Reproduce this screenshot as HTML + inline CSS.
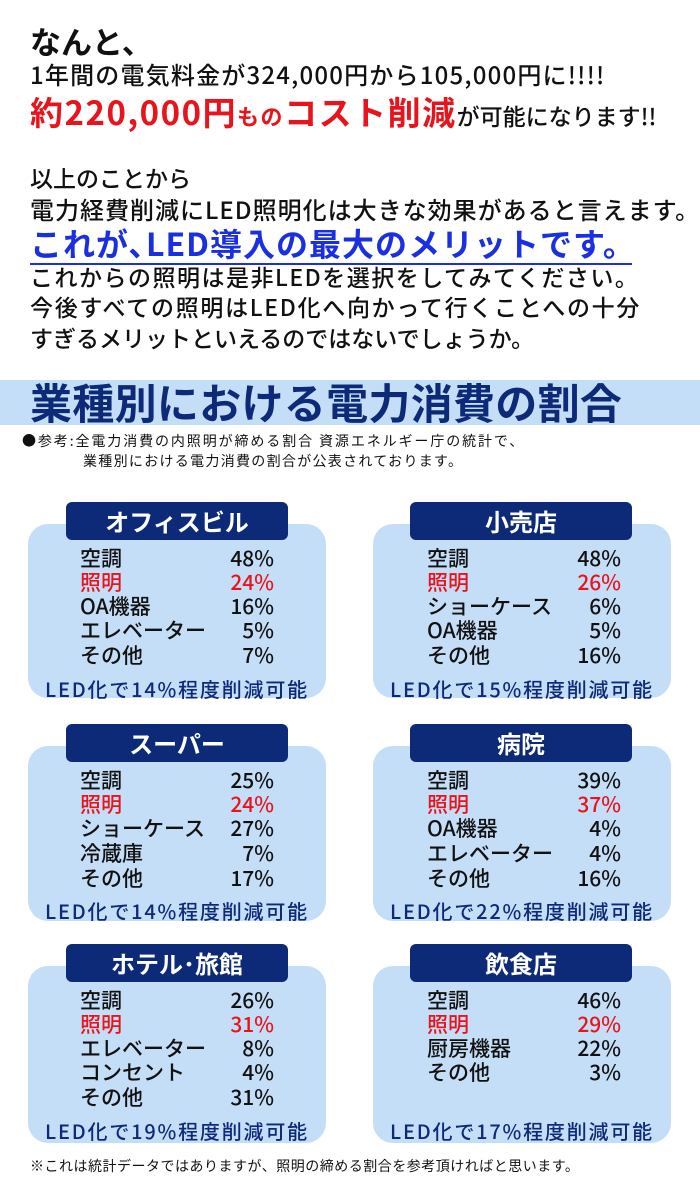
<!DOCTYPE html>
<html><head><meta charset="utf-8"><style>
*{margin:0;padding:0;box-sizing:border-box}
body{width:700px;height:1200px;background:#fff;font-family:"Noto Sans CJK JP","Liberation Sans",sans-serif;position:relative;overflow:hidden;color:#111}
.t{position:absolute;white-space:nowrap;line-height:1}
.b{font-weight:bold}
.banner{position:absolute;left:0;top:380px;width:700px;height:45px;background:#c5def8}
.card{position:absolute;width:298px;background:#c5def8;border-radius:20px}
.title{position:absolute;width:222px;height:38px;background:#0d2a78;border-radius:6px;color:#fff;font-weight:bold;font-size:24px;text-align:center;line-height:38px}
.row{position:absolute;font-size:21px;line-height:1;white-space:nowrap;font-weight:500}
.red{color:#e8141c}
.foot{position:absolute;color:#0d2a78;font-size:20px;font-weight:500;white-space:nowrap;line-height:1;letter-spacing:1.8px}
</style></head><body>
<div class="t b" style="left:30px;top:25px;font-size:31px">なんと、</div>
<div class="t" style="left:30px;top:62px;font-size:24px;font-weight:500;letter-spacing:1.2px">1年間の電気料金が324,000円から105,000円に!!!!</div>
<div class="t b" style="left:30px;top:95px;font-size:33px;color:#e8141c;letter-spacing:1.5px">約220,000円<span style="font-size:22px">もの</span>コスト削減<span style="color:#111;font-size:23px;font-weight:500;letter-spacing:0">が可能になります!!</span></div>
<div class="t" style="left:30px;top:166px;font-size:23px;font-weight:500">以上のことから</div>
<div class="t" style="left:30px;top:197px;font-size:24px;font-weight:500;letter-spacing:1px">電力経費削減にLED照明化は大きな効果があると言えます。</div>
<div class="t b" style="left:30px;top:227px;font-size:32px;color:#1a2fe0;letter-spacing:1px">これが､LED導入の最大のメリットです。</div>
<div style="position:absolute;left:30px;top:263px;width:602px;height:2px;background:#1a2fe0"></div>
<div class="t" style="left:30px;top:265px;font-size:23px;font-weight:500;letter-spacing:1.5px">これからの照明は是非LEDを選択をしてみてください。</div>
<div class="t" style="left:30px;top:295px;font-size:23px;font-weight:500;letter-spacing:1.7px">今後すべての照明はLED化へ向かって行くことへの十分</div>
<div class="t" style="left:30px;top:326px;font-size:23px;font-weight:500">すぎるメリットといえるのではないでしょうか。</div>

<div class="banner"></div>
<div class="t b" style="left:30px;top:381px;font-size:42px;color:#0d2a78;letter-spacing:0.3px">業種別における電力消費の割合</div>
<div class="t" style="left:22px;top:434px;font-size:14px;letter-spacing:1.9px">●参考:全電力消費の内照明が締める割合 資源エネルギー庁の統計で、</div>
<div class="t" style="left:83px;top:454px;font-size:14px;letter-spacing:1.3px">業種別における電力消費の割合が公表されております。</div>

<!-- row 1 -->
<div class="card" style="left:28px;top:524px;height:174px"></div>
<div class="title" style="left:66px;top:502px">オフィスビル</div>
<div class="row" style="left:80px;top:548px">空調</div><div class="row red" style="left:80px;top:572px">照明</div>
<div class="row" style="left:80px;top:596px">OA機器</div><div class="row" style="left:80px;top:620px">エレベーター</div><div class="row" style="left:80px;top:645px">その他</div>
<div class="row" style="right:426px;top:548px">48%</div><div class="row red" style="right:426px;top:572px">24%</div><div class="row" style="right:426px;top:596px">16%</div><div class="row" style="right:426px;top:620px">5%</div><div class="row" style="right:426px;top:645px">7%</div>
<div class="foot" style="left:45px;top:679px">LED化で14%程度削減可能</div>

<div class="card" style="left:373px;top:524px;height:174px"></div>
<div class="title" style="left:410px;top:502px">小売店</div>
<div class="row" style="left:427px;top:548px">空調</div><div class="row red" style="left:427px;top:572px">照明</div>
<div class="row" style="left:427px;top:596px">ショーケース</div><div class="row" style="left:427px;top:620px">OA機器</div><div class="row" style="left:427px;top:645px">その他</div>
<div class="row" style="right:79px;top:548px">48%</div><div class="row red" style="right:79px;top:572px">26%</div><div class="row" style="right:79px;top:596px">6%</div><div class="row" style="right:79px;top:620px">5%</div><div class="row" style="right:79px;top:645px">16%</div>
<div class="foot" style="left:390px;top:679px">LED化で15%程度削減可能</div>

<!-- row 2 -->
<div class="card" style="left:28px;top:746px;height:175px"></div>
<div class="title" style="left:66px;top:724px">スーパー</div>
<div class="row" style="left:80px;top:770px">空調</div><div class="row red" style="left:80px;top:794px">照明</div>
<div class="row" style="left:80px;top:818px">ショーケース</div><div class="row" style="left:80px;top:843px">冷蔵庫</div><div class="row" style="left:80px;top:868px">その他</div>
<div class="row" style="right:426px;top:770px">25%</div><div class="row red" style="right:426px;top:794px">24%</div><div class="row" style="right:426px;top:818px">27%</div><div class="row" style="right:426px;top:843px">7%</div><div class="row" style="right:426px;top:868px">17%</div>
<div class="foot" style="left:45px;top:901px">LED化で14%程度削減可能</div>

<div class="card" style="left:373px;top:746px;height:175px"></div>
<div class="title" style="left:410px;top:724px">病院</div>
<div class="row" style="left:427px;top:770px">空調</div><div class="row red" style="left:427px;top:794px">照明</div>
<div class="row" style="left:427px;top:818px">OA機器</div><div class="row" style="left:427px;top:843px">エレベーター</div><div class="row" style="left:427px;top:868px">その他</div>
<div class="row" style="right:79px;top:770px">39%</div><div class="row red" style="right:79px;top:794px">37%</div><div class="row" style="right:79px;top:818px">4%</div><div class="row" style="right:79px;top:843px">4%</div><div class="row" style="right:79px;top:868px">16%</div>
<div class="foot" style="left:390px;top:901px">LED化で22%程度削減可能</div>

<!-- row 3 -->
<div class="card" style="left:28px;top:966px;height:177px"></div>
<div class="title" style="left:66px;top:944px">ホテル･旅館</div>
<div class="row" style="left:80px;top:990px">空調</div><div class="row red" style="left:80px;top:1014px">照明</div>
<div class="row" style="left:80px;top:1038px">エレベーター</div><div class="row" style="left:80px;top:1062px">コンセント</div><div class="row" style="left:80px;top:1087px">その他</div>
<div class="row" style="right:426px;top:990px">26%</div><div class="row red" style="right:426px;top:1014px">31%</div><div class="row" style="right:426px;top:1038px">8%</div><div class="row" style="right:426px;top:1062px">4%</div><div class="row" style="right:426px;top:1087px">31%</div>
<div class="foot" style="left:45px;top:1121px">LED化で19%程度削減可能</div>

<div class="card" style="left:373px;top:966px;height:177px"></div>
<div class="title" style="left:410px;top:944px">飲食店</div>
<div class="row" style="left:427px;top:990px">空調</div><div class="row red" style="left:427px;top:1014px">照明</div>
<div class="row" style="left:427px;top:1038px">厨房機器</div><div class="row" style="left:427px;top:1062px">その他</div>
<div class="row" style="right:79px;top:990px">46%</div><div class="row red" style="right:79px;top:1014px">29%</div><div class="row" style="right:79px;top:1038px">22%</div><div class="row" style="right:79px;top:1062px">3%</div>
<div class="foot" style="left:390px;top:1121px">LED化で17%程度削減可能</div>

<div class="t" style="left:30px;top:1159px;font-size:14px;letter-spacing:0.5px">※これは統計データではありますが、照明の締める割合を参考頂ければと思います。</div>
</body></html>
